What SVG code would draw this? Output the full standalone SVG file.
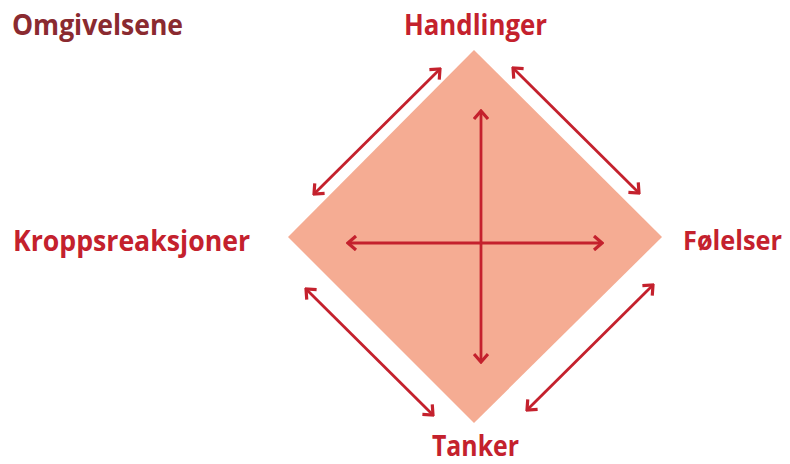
<svg xmlns="http://www.w3.org/2000/svg" width="790" height="464" viewBox="0 0 790 464">
<style>
.lbl{font-family:"Open Sans","Liberation Sans",sans-serif;font-weight:700;font-size:28px;fill:#C4212D}
.env{fill:#8A2A30}
.arr{stroke:#C4212D;stroke-width:2.8;fill:none;marker-start:url(#ah);marker-end:url(#ah)}
</style>
<defs>
<marker id="ah" viewBox="0 0 12 16" refX="10" refY="8" markerWidth="12" markerHeight="16" markerUnits="userSpaceOnUse" orient="auto-start-reverse">
<path d="M2,1 L10,8 L2,15" fill="none" stroke="#C4212D" stroke-width="3.2"/>
</marker>
</defs>
<g id="diamond"><polygon points="474,50 662,237 474,423 288,237" fill="#F5AC93"/></g>
<g id="connectors">
<line class="arr" x1="481" y1="111" x2="481" y2="362"/>
<line class="arr" x1="348" y1="243" x2="602" y2="243"/>
<line class="arr" x1="314" y1="194" x2="440" y2="69"/>
<line class="arr" x1="513" y1="68" x2="639" y2="193"/>
<line class="arr" x1="306" y1="289" x2="433" y2="415"/>
<line class="arr" x1="653" y1="285" x2="527" y2="410"/>
</g>
<g id="omgivelsene"><text class="lbl env" x="12" y="35" textLength="171" lengthAdjust="spacingAndGlyphs">Omgivelsene</text></g>
<g id="handlinger"><text class="lbl" x="404" y="35" textLength="143" lengthAdjust="spacingAndGlyphs">Handlinger</text></g>
<g id="kroppsreaksjoner"><text class="lbl" x="13" y="251" textLength="237" lengthAdjust="spacingAndGlyphs">Kroppsreaksjoner</text></g>
<g id="folelser"><text class="lbl" x="683" y="250" style="font-size:26px" textLength="99" lengthAdjust="spacingAndGlyphs">Følelser</text></g>
<g id="tanker"><text class="lbl" x="432" y="456" textLength="87" lengthAdjust="spacingAndGlyphs">Tanker</text></g>
</svg>
